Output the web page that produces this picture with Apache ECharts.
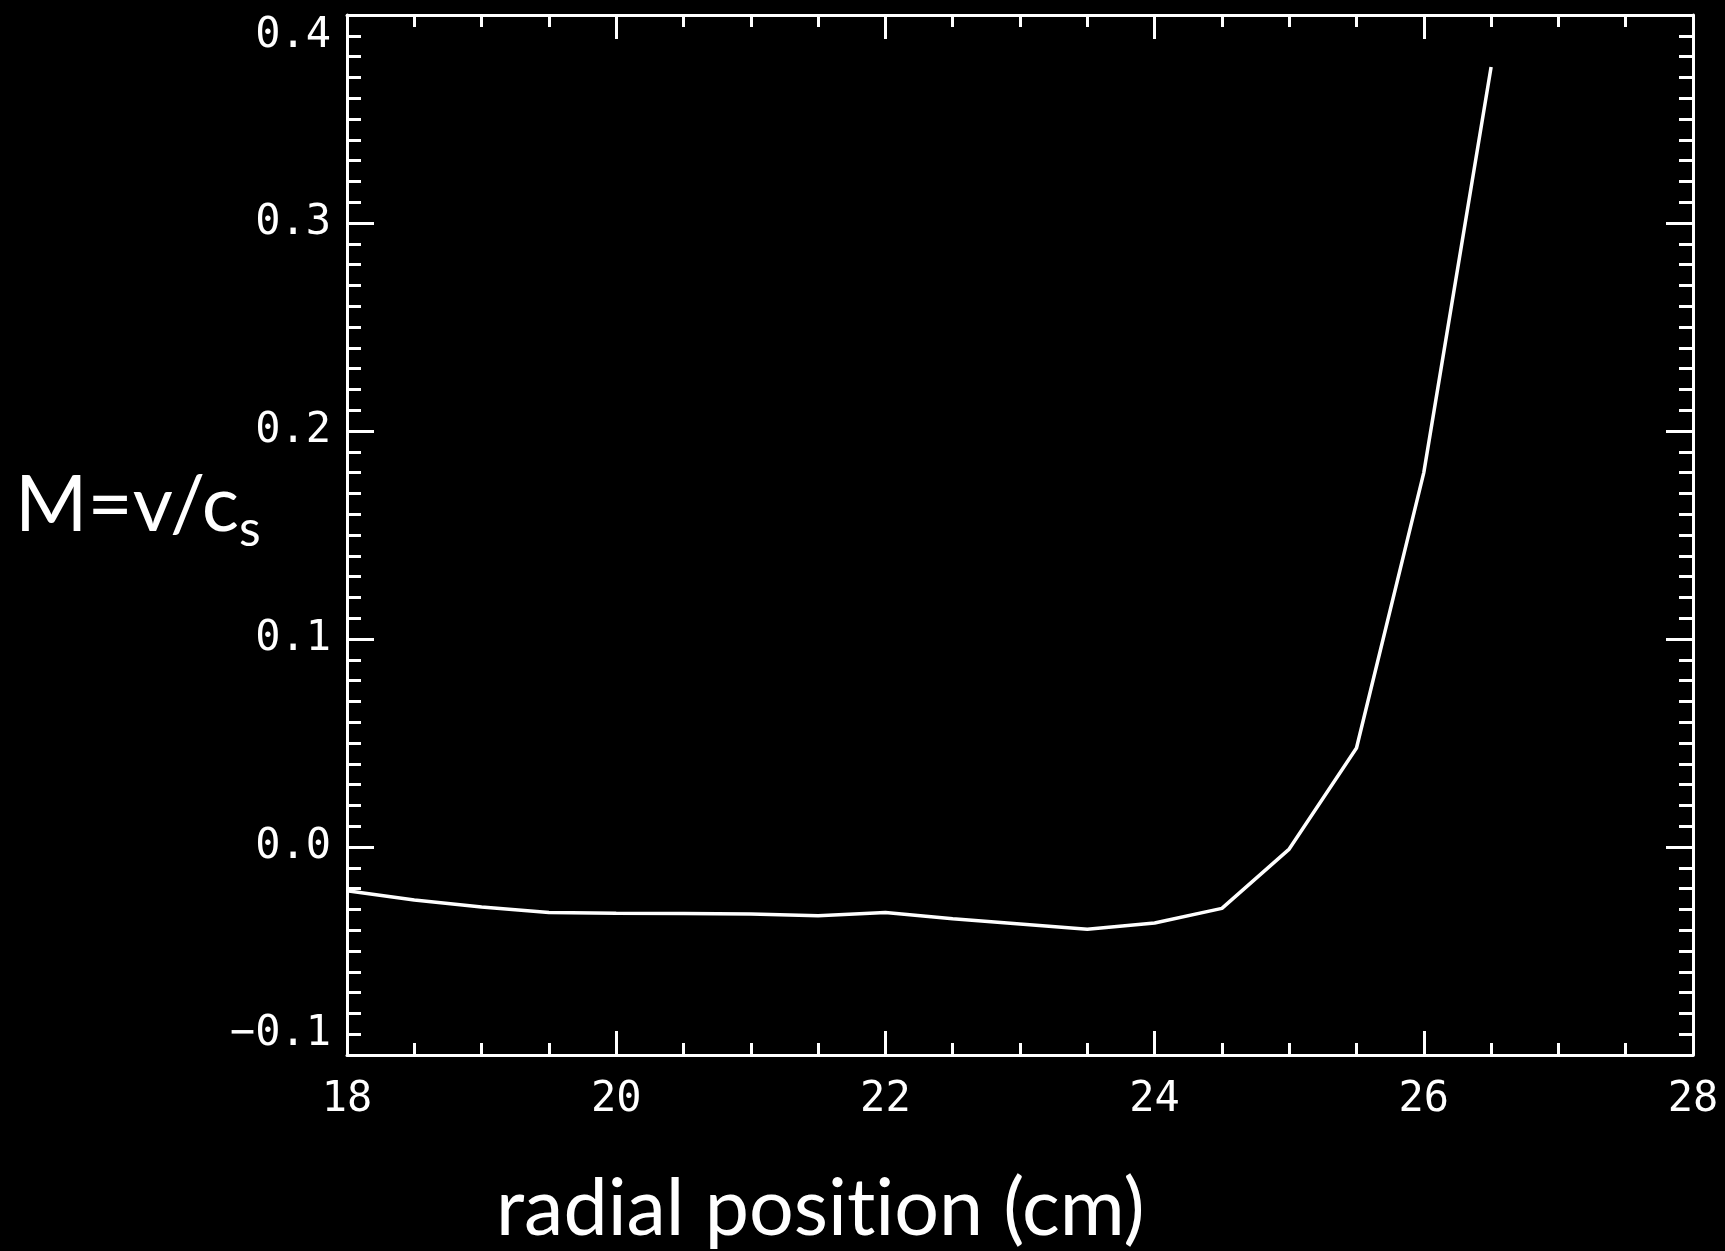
<!DOCTYPE html>
<html>
<head>
<meta charset="utf-8">
<script src="https://cdn.jsdelivr.net/npm/echarts@6/dist/echarts.min.js"></script>
<style>
html,body{margin:0;padding:0;background:#000;}
#chart{width:1725px;height:1251px;}
</style>
</head>
<body>
<div id="chart"></div>
<script>
const radialPosition = [18, 18.5, 19, 19.5, 20, 20.5, 21, 21.5, 22, 22.5, 23, 23.5, 24, 24.5, 25, 25.5, 26, 26.5];
const machNumber = [-0.021, -0.0255, -0.0288, -0.0315, -0.0318, -0.032, -0.0322, -0.033, -0.0315, -0.0345, -0.037, -0.0395, -0.0365, -0.0295, -0.001, 0.0476, 0.18, 0.375];
const xTicks = [18, 20, 22, 24, 26, 28];
const yTicks = [-0.1, 0.0, 0.1, 0.2, 0.3, 0.4];
const xTitleParts = ['radial posit', 'ion (cm)'];
const yTitle = 'M=v/c';
const ySub = 's';

const chart = echarts.init(document.getElementById('chart'));
const tickFont = {color:'#fff', fontFamily:'DejaVu Sans Mono', fontSize:42};
const axisLine = {show:true, onZero:false, lineStyle:{color:'#fff', width:3}};
const fmtY = v => (v < 0 ? '\u2212' : '') + Math.abs(v).toFixed(1);

const baseX = {
  type:'value', min:xTicks[0], max:xTicks[xTicks.length-1], interval:2,
  axisLine, splitLine:{show:false},
  axisTick:{show:true, inside:true, length:24, lineStyle:{color:'#fff', width:3}},
  minorTick:{show:true, splitNumber:4, length:12, lineStyle:{color:'#fff', width:3}}
};
const baseY = {
  type:'value', min:yTicks[0], max:yTicks[yTicks.length-1], interval:0.1,
  axisLine, splitLine:{show:false},
  axisTick:{show:true, inside:true, length:27, lineStyle:{color:'#fff', width:3}},
  minorTick:{show:true, splitNumber:10, length:14, lineStyle:{color:'#fff', width:3}}
};

chart.setOption({
  backgroundColor:'#000',
  animation:false,
  grid:{left:347, top:15, right:32, bottom:196},
  xAxis:[
    Object.assign({}, baseX, {position:'bottom',
      axisLabel:Object.assign({margin:24, formatter:v=>String(v)}, tickFont)}),
    Object.assign({}, baseX, {position:'top', axisLabel:{show:false}})
  ],
  yAxis:[
    Object.assign({}, baseY, {position:'left',
      axisLabel:Object.assign({margin:16, formatter:fmtY,
        verticalAlignMinLabel:'bottom', verticalAlignMaxLabel:'top'}, tickFont)}),
    Object.assign({}, baseY, {position:'right', axisLabel:{show:false}})
  ],
  series:[{
    type:'line',
    data:radialPosition.map((x,i)=>[x, machNumber[i]]),
    showSymbol:false,
    lineStyle:{color:'#fff', width:3.5},
    clip:false
  }],
  graphic:[
    {type:'text', left:496, top:1170,
      style:{text:xTitleParts.map(p=>'{a|'+p+'}').join(''), fill:'#fff',
        rich:{a:{fontFamily:'Lato', fontSize:79, fill:'#fff'}}}},
    {type:'text', left:15, top:467,
      style:{text:'{m|'+yTitle+'}{s|'+ySub+'}', fill:'#fff',
        rich:{m:{fontFamily:'Lato', fontSize:78, fill:'#fff', verticalAlign:'bottom'},
              s:{fontFamily:'Lato', fontSize:50, fill:'#fff', verticalAlign:'bottom', padding:[0,0,-10,0]}}}}
  ]
});
</script>
</body>
</html>
